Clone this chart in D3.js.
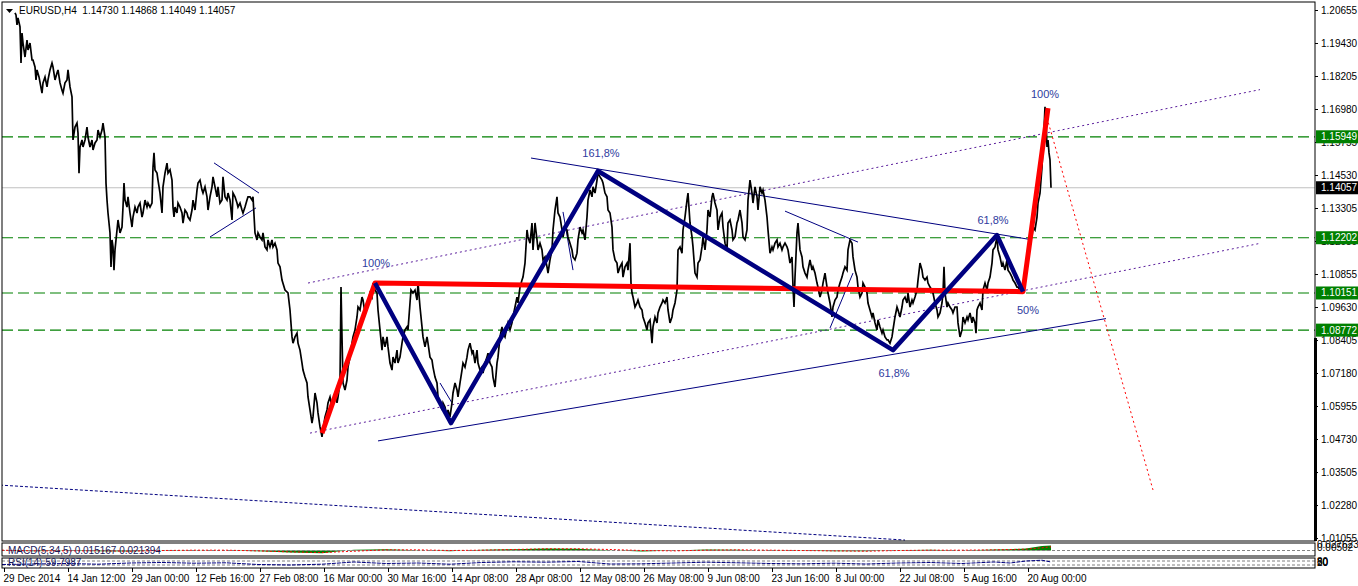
<!DOCTYPE html>
<html><head><meta charset="utf-8">
<script src="https://cdn.jsdelivr.net/npm/d3@7"></script>
<style>body{margin:0;background:#fff}svg{display:block}text{font-family:"Liberation Sans",Arial,sans-serif}</style>
</head><body><svg id="c" width="1358" height="586"></svg>
<script>
// ---------------- DATA ----------------
const symbolTitle = "EURUSD,H4  1.14730 1.14868 1.14049 1.14057";
const timeTickBars = [2,66,130,194,258,322,386,450,514,578,642,706,770,834,898,962,1026];
const timeTickLabels = ["29 Dec 2014","14 Jan 12:00","29 Jan 00:00","12 Feb 16:00","27 Feb 08:00","16 Mar 00:00","30 Mar 16:00","14 Apr 08:00","28 Apr 08:00","12 May 08:00","26 May 08:00","9 Jun 08:00","23 Jun 16:00","8 Jul 00:00","22 Jul 08:00","5 Aug 16:00","20 Aug 00:00"];
const priceTicks = [1.20655,1.19430,1.18205,1.16980,1.15755,1.14530,1.13305,1.12080,1.10855,1.09630,1.08405,1.07180,1.05955,1.04730,1.03505,1.02280,1.01055];
const levelPrices = [1.15949,1.12202,1.10151,1.08772];
const lastPrice = 1.14057;

// [bar index, price] sampled from the H4 price trace
const pricePath = [[13,1.2055],[14,1.2047],[15,1.2010],[16,1.2036],[18,1.2003],[19,1.1869],[20,1.1980],[21,1.1943],[23,1.1891],[25,1.1954],[26,1.1917],[28,1.1943],[30,1.1880],[31,1.1880],[33,1.1854],[34,1.1806],[35,1.1843],[37,1.1817],[40,1.1757],[41,1.1795],[43,1.1817],[45,1.1780],[46,1.1806],[48,1.1843],[50,1.1869],[51,1.1854],[53,1.1806],[55,1.1832],[56,1.1843],[58,1.1795],[60,1.1768],[61,1.1757],[63,1.1795],[65,1.1806],[66,1.1843],[68,1.1780],[70,1.1743],[71,1.1583],[73,1.1631],[75,1.1646],[76,1.1609],[77,1.1460],[78,1.1557],[80,1.1583],[81,1.1557],[83,1.1583],[85,1.1631],[86,1.1594],[88,1.1557],[90,1.1583],[91,1.1546],[93,1.1572],[95,1.1583],[96,1.1620],[98,1.1594],[100,1.1620],[101,1.1646],[103,1.1594],[104,1.1423],[105,1.1360],[106,1.1312],[108,1.1238],[109,1.1112],[110,1.1212],[111,1.1186],[112,1.1100],[113,1.1175],[115,1.1249],[116,1.1286],[118,1.1238],[120,1.1260],[121,1.1334],[122,1.1423],[123,1.1360],[125,1.1334],[126,1.1372],[128,1.1312],[130,1.1260],[131,1.1297],[133,1.1334],[135,1.1312],[136,1.1334],[138,1.1349],[140,1.1297],[141,1.1312],[143,1.1360],[145,1.1334],[146,1.1349],[148,1.1334],[150,1.1349],[151,1.1483],[152,1.1535],[153,1.1472],[155,1.1460],[156,1.1434],[158,1.1386],[160,1.1312],[161,1.1409],[163,1.1460],[165,1.1497],[166,1.1460],[168,1.1472],[170,1.1434],[171,1.1334],[172,1.1297],[173,1.1334],[175,1.1312],[176,1.1349],[178,1.1334],[180,1.1312],[181,1.1274],[183,1.1323],[185,1.1312],[186,1.1297],[188,1.1286],[190,1.1323],[191,1.1360],[193,1.1323],[195,1.1397],[196,1.1423],[198,1.1434],[200,1.1397],[201,1.1386],[203,1.1409],[205,1.1372],[206,1.1323],[208,1.1372],[210,1.1409],[211,1.1446],[213,1.1409],[215,1.1372],[216,1.1409],[218,1.1349],[220,1.1360],[221,1.1446],[223,1.1372],[225,1.1360],[226,1.1386],[228,1.1360],[230,1.1286],[231,1.1386],[233,1.1372],[235,1.1349],[236,1.1334],[238,1.1349],[240,1.1323],[241,1.1312],[243,1.1334],[245,1.1360],[246,1.1372],[248,1.1372],[250,1.1360],[251,1.1372],[253,1.1238],[255,1.1212],[256,1.1238],[258,1.1223],[260,1.1212],[261,1.1238],[263,1.1186],[265,1.1175],[266,1.1212],[268,1.1186],[270,1.1212],[271,1.1186],[273,1.1200],[275,1.1175],[276,1.1126],[278,1.1112],[280,1.1063],[283,1.1026],[286,1.1015],[288,1.0952],[290,1.0852],[291,1.0829],[293,1.0852],[295,1.0866],[296,1.0829],[298,1.0803],[300,1.0755],[301,1.0729],[303,1.0703],[305,1.0681],[306,1.0629],[308,1.0581],[310,1.0532],[311,1.0555],[313,1.0644],[315,1.0607],[316,1.0570],[318,1.0518],[320,1.0481],[321,1.0507],[323,1.0555],[325,1.0581],[326,1.0607],[328,1.0629],[330,1.0592],[331,1.0618],[333,1.0644],[335,1.0607],[336,1.0629],[338,1.0681],[339,1.1037],[340,1.0852],[341,1.0681],[343,1.0655],[345,1.0692],[346,1.0740],[348,1.0777],[350,1.0829],[351,1.0852],[353,1.0878],[355,1.0926],[356,1.0963],[358,1.0952],[360,1.1000],[361,1.0989],[363,1.0941],[365,1.0963],[366,1.0978],[368,1.1015],[370,1.1000],[371,1.1052],[373,1.1026],[375,1.1015],[376,1.0952],[378,1.0878],[380,1.0803],[381,1.0852],[383,1.0815],[385,1.0852],[386,1.0815],[388,1.0755],[390,1.0729],[391,1.0777],[393,1.0755],[395,1.0803],[396,1.0755],[398,1.0777],[400,1.0829],[401,1.0852],[403,1.0878],[405,1.0889],[406,1.0878],[408,1.0978],[409,1.1026],[411,1.1015],[413,1.1026],[415,1.0989],[416,1.1052],[418,1.0963],[420,1.0889],[421,1.0852],[423,1.0815],[425,1.0852],[426,1.0829],[428,1.0777],[430,1.0766],[431,1.0740],[433,1.0703],[435,1.0681],[436,1.0629],[438,1.0607],[440,1.0581],[441,1.0607],[443,1.0592],[445,1.0555],[446,1.0581],[448,1.0555],[450,1.0607],[451,1.0644],[453,1.0681],[455,1.0655],[456,1.0629],[458,1.0681],[460,1.0729],[461,1.0755],[463,1.0740],[465,1.0777],[466,1.0803],[468,1.0829],[470,1.0792],[471,1.0803],[473,1.0755],[475,1.0803],[476,1.0755],[478,1.0729],[480,1.0740],[481,1.0718],[483,1.0755],[485,1.0777],[486,1.0792],[488,1.0755],[490,1.0740],[491,1.0703],[493,1.0666],[495,1.0755],[496,1.0777],[498,1.0852],[500,1.0889],[501,1.0866],[503,1.0852],[505,1.0889],[506,1.0904],[508,1.0878],[510,1.0904],[511,1.0926],[513,1.0963],[515,1.1000],[516,1.0978],[518,1.1037],[520,1.1063],[521,1.1074],[523,1.1126],[525,1.1249],[526,1.1223],[528,1.1200],[530,1.1275],[531,1.1175],[533,1.1275],[535,1.1212],[536,1.1175],[538,1.1200],[540,1.1175],[541,1.1138],[543,1.1149],[545,1.1112],[546,1.1089],[548,1.1138],[550,1.1175],[551,1.1249],[553,1.1323],[555,1.1372],[556,1.1312],[558,1.1297],[560,1.1249],[561,1.1223],[563,1.1260],[565,1.1249],[566,1.1223],[568,1.1200],[570,1.1175],[571,1.1149],[573,1.1138],[575,1.1163],[576,1.1212],[578,1.1260],[580,1.1238],[581,1.1249],[583,1.1212],[585,1.1297],[586,1.1360],[588,1.1397],[590,1.1372],[591,1.1409],[593,1.1386],[595,1.1434],[596,1.1460],[598,1.1446],[600,1.1434],[601,1.1423],[603,1.1386],[605,1.1372],[606,1.1323],[608,1.1312],[610,1.1260],[611,1.1175],[613,1.1138],[615,1.1126],[616,1.1089],[618,1.1112],[620,1.1126],[621,1.1074],[623,1.1112],[625,1.1126],[626,1.1100],[628,1.1200],[629,1.1052],[630,1.1015],[631,1.1000],[633,1.0963],[635,1.0978],[636,1.0989],[638,1.0963],[640,1.0952],[641,1.0926],[643,1.0904],[645,1.0878],[646,1.0904],[648,1.0915],[650,1.0829],[651,1.0889],[653,1.0926],[655,1.0904],[656,1.0941],[658,1.0963],[660,1.0978],[661,1.0989],[663,1.0978],[665,1.1000],[666,1.0952],[668,1.0904],[670,1.0926],[671,1.0952],[673,1.0978],[675,1.1026],[676,1.1175],[678,1.1186],[680,1.1163],[681,1.1249],[683,1.1297],[685,1.1360],[686,1.1386],[688,1.1275],[690,1.1223],[691,1.1186],[693,1.1089],[695,1.1074],[696,1.1126],[698,1.1138],[700,1.1186],[701,1.1223],[703,1.1175],[705,1.1249],[706,1.1323],[708,1.1297],[710,1.1372],[711,1.1386],[713,1.1349],[715,1.1323],[716,1.1249],[718,1.1297],[720,1.1312],[721,1.1260],[723,1.1200],[725,1.1175],[726,1.1275],[728,1.1286],[730,1.1249],[731,1.1212],[733,1.1223],[735,1.1275],[736,1.1286],[738,1.1323],[740,1.1275],[741,1.1223],[743,1.1212],[745,1.1249],[746,1.1360],[748,1.1434],[750,1.1386],[751,1.1349],[753,1.1409],[755,1.1372],[756,1.1323],[758,1.1409],[760,1.1386],[761,1.1397],[763,1.1360],[765,1.1297],[766,1.1249],[768,1.1163],[770,1.1186],[771,1.1175],[773,1.1200],[775,1.1212],[776,1.1186],[778,1.1200],[780,1.1175],[781,1.1186],[783,1.1200],[785,1.1186],[786,1.1175],[788,1.1126],[790,1.1149],[791,1.1037],[792,1.0963],[793,1.1074],[795,1.1238],[796,1.1275],[798,1.1175],[800,1.1149],[801,1.1112],[803,1.1089],[805,1.1074],[806,1.1100],[808,1.1138],[810,1.1100],[811,1.1112],[813,1.1089],[815,1.1052],[816,1.1037],[818,1.1000],[820,1.1026],[821,1.1052],[823,1.1089],[825,1.1037],[826,1.1015],[828,1.0978],[830,1.0926],[831,1.0963],[833,1.0989],[835,1.1000],[836,1.1026],[838,1.1052],[840,1.1074],[841,1.1089],[843,1.1112],[845,1.1100],[846,1.1175],[848,1.1212],[850,1.1200],[851,1.1149],[853,1.1100],[855,1.1074],[856,1.1037],[858,1.1000],[860,1.1015],[861,1.1052],[863,1.1037],[865,1.1015],[866,1.0978],[868,1.0952],[870,1.0926],[871,1.0941],[873,1.0904],[875,1.0878],[876,1.0915],[878,1.0889],[880,1.0866],[881,1.0878],[883,1.0852],[885,1.0841],[886,1.0841],[888,1.0829],[890,1.0852],[891,1.0878],[893,1.0926],[895,1.0963],[896,1.0952],[898,1.0926],[900,1.0963],[901,1.0989],[903,1.1000],[905,1.0978],[906,1.1015],[908,1.0963],[910,1.0989],[911,1.0978],[913,1.1000],[915,1.1026],[916,1.1063],[918,1.1126],[920,1.1100],[921,1.1074],[923,1.1063],[925,1.1074],[926,1.1052],[928,1.1037],[930,1.1026],[931,1.1015],[933,1.0978],[935,1.0952],[936,1.0926],[938,1.0941],[940,1.0978],[941,1.1015],[942,1.1112],[943,1.1015],[945,1.0963],[946,1.0978],[948,1.0963],[950,1.0952],[951,1.0941],[953,1.0963],[955,1.0963],[956,1.0904],[958,1.0852],[960,1.0878],[961,1.0926],[963,1.0904],[965,1.0926],[966,1.0915],[968,1.0941],[970,1.0904],[971,1.0926],[973,1.0904],[974,1.0866],[975,1.0952],[976,1.0963],[978,1.0978],[980,1.0952],[981,1.1026],[983,1.1052],[985,1.1026],[986,1.1052],[988,1.1074],[990,1.1126],[991,1.1175],[993,1.1186],[995,1.1223],[996,1.1175],[998,1.1149],[1000,1.1112],[1001,1.1126],[1003,1.1100],[1005,1.1138],[1006,1.1100],[1008,1.1089],[1010,1.1074],[1011,1.1063],[1013,1.1052],[1015,1.1037],[1016,1.1037],[1018,1.1026],[1021,1.1026],[1023,1.1052],[1025,1.1138],[1026,1.1175],[1028,1.1212],[1030,1.1223],[1031,1.1260],[1033,1.1249],[1035,1.1297],[1036,1.1349],[1038,1.1386],[1040,1.1483],[1041,1.1557],[1042,1.1620],[1043,1.1706],[1044,1.1657],[1045,1.1557],[1046,1.1583],[1047,1.1535],[1048,1.1509],[1049,1.1406]];

// Harmonic pattern drawings [bar, price]
const navyZigzag = [[373,1.1052],[449,1.0532],[596,1.1468],[891,1.0803],[995,1.1230],[1021,1.1020]];
const redZigzag = [[320,1.0495],[373,1.1052],[1021,1.1020],[1046,1.1701]];
const fiboLabels = [
  {text:"100%", bar:374, price:1.1111},
  {text:"161,8%", bar:599, price:1.1520},
  {text:"61,8%", bar:991, price:1.1271},
  {text:"50%", bar:1026, price:1.0937},
  {text:"61,8%", bar:892, price:1.0703},
  {text:"100%", bar:1043, price:1.1739}
];
const thinTrendLines = [
  [[376,1.0466],[1104,1.0920]],
  [[529,1.1516],[1026,1.1215]],
  [[212,1.1498],[257,1.1386]],
  [[208,1.1223],[254,1.1331]],
  [[783,1.1319],[856,1.1204]],
  [[828,1.0885],[851,1.1089]],
  [[561,1.1316],[571,1.1100]],
  [[438,1.0681],[450,1.0607]]
];
const purpleChannel = [
  [[306,1.1052],[1258,1.1770]],
  [[308,1.0495],[1259,1.1200]]
];
const navyDottedLine = [[-2,1.0302],[903,1.0098]];
const redProjection = [[1045,1.1665],[1151,1.0284]];

// Indicator panels
const indBars = [0,32,64,96,128,160,192,224,256,288,320,352,384,416,448,480,512,544,576,608,640,672,704,736,768,800,832,864,896,928,960,992,1008,1024,1040,1049];
const macdHist = [0.000,-0.002,-0.001,-0.002,-0.003,0.001,0.001,0.000,-0.002,-0.006,-0.008,0.002,0.004,0.001,-0.002,0.002,0.004,0.006,0.005,0.001,-0.003,0.000,0.003,0.002,-0.001,-0.001,-0.002,-0.002,0.001,0.002,0.000,0.003,0.004,0.006,0.013,0.015];
const macdSignal = [0.001,-0.001,-0.001,-0.001,-0.002,0.000,0.001,0.001,-0.001,-0.004,-0.006,-0.002,0.002,0.002,0.000,0.001,0.003,0.005,0.005,0.003,0.000,-0.001,0.001,0.002,0.001,0.000,-0.001,-0.002,0.000,0.001,0.001,0.002,0.003,0.004,0.008,0.011];
const rsiValues = [35,40,45,38,50,55,48,52,35,30,38,60,45,50,38,55,62,58,65,40,42,50,58,52,45,42,48,40,50,55,45,60,50,70,78,60];
const rsiLevels = [70,30];
const macdTitle = "MACD(5,34,5) 0.015167 0.021394";
const rsiTitle = "RSI(14) 59.7987";

// ---------------- DRAW ----------------
const svg = d3.select("#c");
const L = 2, R = 1315, T = 2, B = 541;
const x = d3.scaleLinear().domain([0, 1313]).range([L, R]);
const y = d3.scaleLinear().domain([1.00945, 1.20952]).range([B, T]);
const line = d3.line().x(d => x(d[0])).y(d => y(d[1]));

svg.append("rect").attr("width",1358).attr("height",586).attr("fill","#fff");
svg.append("defs").append("clipPath").attr("id","mainClip")
  .append("rect").attr("x",L).attr("y",T).attr("width",R-L).attr("height",B-T);
const main = svg.append("g").attr("clip-path","url(#mainClip)");

// levels
main.selectAll(".lvl").data(levelPrices).join("line")
  .attr("x1",L).attr("x2",R).attr("y1",d=>y(d)).attr("y2",d=>y(d))
  .attr("stroke","#008000").attr("stroke-width",1.2).attr("stroke-dasharray","11,5");
main.append("line").attr("x1",L).attr("x2",R).attr("y1",y(lastPrice)).attr("y2",y(lastPrice))
  .attr("stroke","#c0c0c0").attr("stroke-width",1);

// dotted lines
purpleChannel.forEach(p => main.append("path").attr("d",line(p)).attr("fill","none")
  .attr("stroke","#5a1d9c").attr("stroke-width",1).attr("stroke-dasharray","2,3"));
main.append("path").attr("d",line(navyDottedLine)).attr("fill","none")
  .attr("stroke","#000080").attr("stroke-width",1).attr("stroke-dasharray","3,2");
main.append("path").attr("d",line(redProjection)).attr("fill","none")
  .attr("stroke","#ff0000").attr("stroke-width",1).attr("stroke-dasharray","2,3");

// thin trend lines
thinTrendLines.forEach(p => main.append("path").attr("d",line(p)).attr("fill","none")
  .attr("stroke","#000080").attr("stroke-width",1));

// price
main.append("path").attr("d",line(pricePath)).attr("fill","none")
  .attr("stroke","#000").attr("stroke-width",1.7).attr("stroke-linejoin","miter");

// zigzags
main.append("path").attr("d",line(redZigzag)).attr("fill","none")
  .attr("stroke","#ff0000").attr("stroke-width",5).attr("stroke-linejoin","round");
main.append("path").attr("d",line(navyZigzag)).attr("fill","none")
  .attr("stroke","#000080").attr("stroke-width",4.5).attr("stroke-linejoin","round");

main.selectAll(".fl").data(fiboLabels).join("text")
  .attr("x",d=>x(d.bar)).attr("y",d=>y(d.price)).attr("text-anchor","middle")
  .attr("font-size",11).attr("fill","#2e3b9e").text(d=>d.text);

// title
svg.append("path").attr("d","M6,9 L13,9 L9.5,13 Z").attr("fill","#000");
svg.append("text").attr("x",19).attr("y",14).attr("font-size",10).attr("fill","#000")
  .attr("xml:space","preserve").style("white-space","pre").text(symbolTitle);

// frame
svg.append("rect").attr("x",L).attr("y",T).attr("width",R-L).attr("height",B-T)
  .attr("fill","none").attr("stroke","#000").attr("stroke-width",1);

// right axis
const yAxis = d3.axisRight(y).tickValues(priceTicks).tickSize(3).tickPadding(3).tickFormat(d3.format(".5f"));
const ya = svg.append("g").attr("transform",`translate(${R},0)`).call(yAxis);
ya.select(".domain").remove();
ya.selectAll("text").attr("font-size",10).attr("font-family","Liberation Sans, Arial, sans-serif");
svg.append("line").attr("x1",R+0.5).attr("x2",R+0.5).attr("y1",y(1.0848)).attr("y2",B)
  .attr("stroke","#000").attr("stroke-width",3);

// price boxes
const boxes = levelPrices.map(v=>({v, fill:"#008000"})).concat([{v:lastPrice, fill:"#000"}]);
const bx = svg.selectAll(".pb").data(boxes).join("g").attr("transform",d=>`translate(${R+1},${y(d.v)})`);
bx.append("rect").attr("x",0).attr("y",-6.5).attr("width",43).attr("height",13).attr("fill",d=>d.fill);
bx.append("text").attr("x",5).attr("dy","0.35em").attr("font-size",10).attr("fill","#fff").text(d=>d.v.toFixed(5));

// MACD panel
const mT = 543, mB = 556;
const my = d3.scaleLinear().domain([-0.016, 0.022]).range([mB, mT]);
const macdData = indBars.map((b,i)=>[b, macdHist[i], macdSignal[i], rsiValues[i]]);
svg.append("path").datum(macdData)
  .attr("d", d3.area().x(d=>x(d[0])).y0(my(0)).y1(d=>my(d[1])))
  .attr("fill","#008000");
svg.append("line").attr("x1",L).attr("x2",R).attr("y1",my(0)).attr("y2",my(0))
  .attr("stroke","#808080").attr("stroke-dasharray","3,2");
svg.append("path").datum(macdData)
  .attr("d", d3.line().x(d=>x(d[0])).y(d=>my(d[2])))
  .attr("fill","none").attr("stroke","#ff0000").attr("stroke-width",1).attr("stroke-dasharray","2,2");
svg.append("rect").attr("x",L).attr("y",mT).attr("width",R-L).attr("height",mB-mT)
  .attr("fill","none").attr("stroke","#000");
svg.append("text").attr("x",8).attr("y",554).attr("font-size",10).attr("fill","#1a1a5a").text(macdTitle);
svg.append("text").attr("x",R+2).attr("y",548).attr("font-size",10).attr("fill","#000").text("0.027623");
svg.append("text").attr("x",R+2).attr("y",551).attr("font-size",10).attr("fill","#000").text("0.00502");

// RSI panel
const rT = 558, rB = 568;
const ry = d3.scaleLinear().domain([0,100]).range([rB, rT]);
svg.selectAll(".rl").data(rsiLevels).join("line")
  .attr("x1",L).attr("x2",R).attr("y1",d=>ry(d)).attr("y2",d=>ry(d))
  .attr("stroke","#808080").attr("stroke-dasharray","3,2");
svg.append("path").datum(macdData)
  .attr("d", d3.line().x(d=>x(d[0])).y(d=>ry(d[3])))
  .attr("fill","none").attr("stroke","#000080").attr("stroke-width",1).attr("stroke-dasharray","4,1");
svg.append("rect").attr("x",L).attr("y",rT).attr("width",R-L).attr("height",rB-rT)
  .attr("fill","none").attr("stroke","#000");
svg.append("text").attr("x",8).attr("y",566).attr("font-size",10).attr("fill","#1a1a5a").text(rsiTitle);
["80","50","20"].forEach((t,i)=>svg.append("text").attr("x",R+2).attr("y",565+i*0.5).attr("font-size",10).attr("fill","#000").text(t));

// time axis
const xAxis = d3.axisBottom(x).tickValues(timeTickBars).tickSize(4).tickFormat((d,i)=>timeTickLabels[i]);
const xa = svg.append("g").attr("transform",`translate(0,${rB})`).call(xAxis);
xa.select(".domain").remove();
xa.selectAll("text").attr("text-anchor","start").attr("x",-1).attr("y",7)
  .attr("font-size",10).attr("font-family","Liberation Sans, Arial, sans-serif");
</script></body></html>
